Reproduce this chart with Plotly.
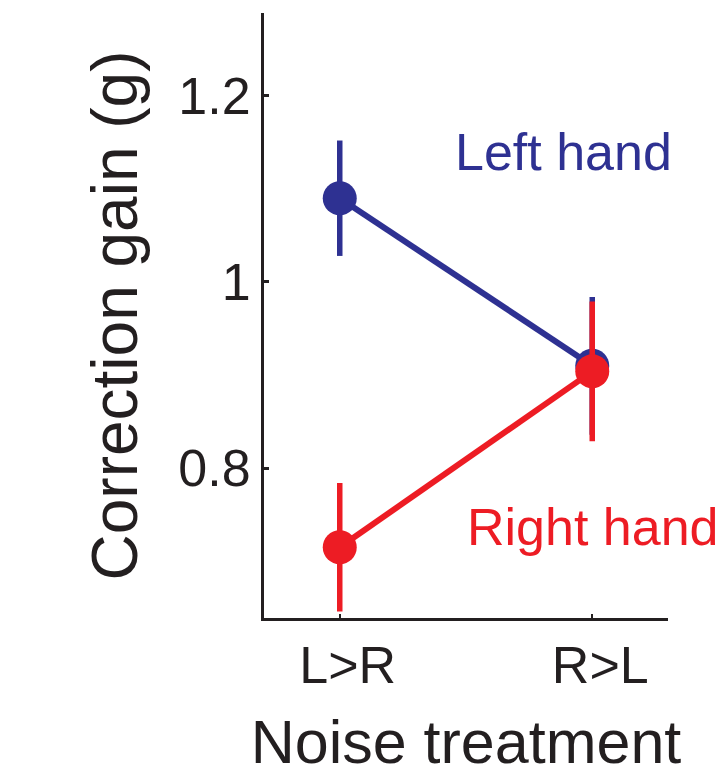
import plotly.graph_objects as go

# Noise treatment conditions
treatments = ["L>R", "R>L"]
x_pos = [1, 2]

# Mean correction gain and error (±) per hand
left_gain = [1.090, 0.910]
left_err = [0.062, 0.074]
right_gain = [0.715, 0.904]
right_err = [0.069, 0.075]

y_ticks = [0.8, 1.0, 1.2]
y_tick_text = ["0.8", "1", "1.2"]

BLUE = "#2E3192"
RED = "#ED1C24"
INK = "#231F20"
FONT = "Liberation Sans, Arial, sans-serif"

fig = go.Figure()

fig.add_trace(go.Scatter(
    x=x_pos, y=left_gain, mode="lines+markers", name="Left hand",
    line=dict(color=BLUE, width=6),
    marker=dict(color=BLUE, size=34, line=dict(width=0)),
    error_y=dict(type="data", array=left_err, color=BLUE, thickness=5.5, width=0),
))
fig.add_trace(go.Scatter(
    x=x_pos, y=right_gain, mode="lines+markers", name="Right hand",
    line=dict(color=RED, width=6),
    marker=dict(color=RED, size=34, line=dict(width=0)),
    error_y=dict(type="data", array=right_err, color=RED, thickness=5.5, width=0),
))

fig.add_annotation(x=1.887, y=1.14, text="Left hand", showarrow=False,
                   font=dict(family=FONT, size=52, color=BLUE),
                   xanchor="center", yanchor="middle")
fig.add_annotation(x=2.004, y=0.737, text="Right hand", showarrow=False,
                   font=dict(family=FONT, size=52, color=RED),
                   xanchor="center", yanchor="middle")

fig.update_layout(
    width=727, height=776,
    margin=dict(l=264, r=59, t=13, b=158),
    paper_bgcolor="white", plot_bgcolor="white",
    showlegend=False,
    font=dict(family=FONT, color=INK),
)

fig.update_xaxes(
    range=[0.7, 2.3], tickvals=x_pos, ticktext=treatments,
    showline=True, linecolor=INK, linewidth=3,
    ticks="inside", ticklen=4, tickwidth=2, tickcolor=INK,
    tickfont=dict(family=FONT, size=52, color=INK),
    ticklabelshift=8,
    showgrid=False, zeroline=False,
    title=dict(text="Noise treatment", font=dict(family=FONT, size=61, color=INK), standoff=27),
)
fig.update_yaxes(
    range=[0.639, 1.289], tickvals=y_ticks, ticktext=y_tick_text,
    showline=True, linecolor=INK, linewidth=3,
    ticks="inside", ticklen=5, tickwidth=3, tickcolor=INK,
    tickfont=dict(family=FONT, size=52, color=INK),
    showgrid=False, zeroline=False,
    title=dict(text="Correction gain (g)", font=dict(family=FONT, size=64, color=INK), standoff=20),
)

fig.write_html("out.html")
